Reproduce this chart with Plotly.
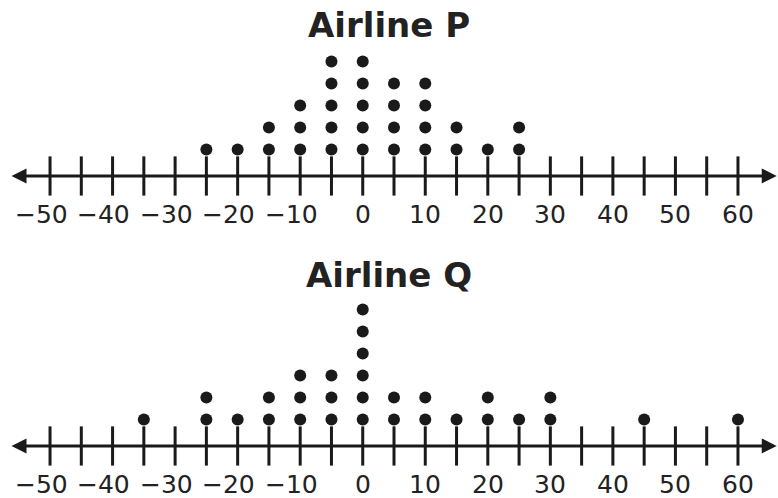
import plotly.graph_objects as go

# ---- data ----
tick_values = list(range(-50, 61, 5))
label_values = list(range(-50, 61, 10))
label_text = ["−50", "−40", "−30", "−20", "−10", "0", "10", "20", "30", "40", "50", "60"]

p_values = [-25, -20, -15, -10, -5, 0, 5, 10, 15, 20, 25]
p_counts = [1, 1, 2, 3, 5, 5, 4, 4, 2, 1, 2]

q_values = [-35, -25, -20, -15, -10, -5, 0, 5, 10, 15, 20, 25, 30, 45, 60]
q_counts = [1, 2, 1, 2, 3, 3, 6, 2, 2, 1, 2, 1, 2, 1, 1]

titles = ["Airline P", "Airline Q"]

# ---- style ----
INK = "#1a1a1a"
AXIS_Y = -0.2
LABEL_Y = -1.97
FONT = "DejaVu Sans"

fig = go.Figure()

panels = [(p_values, p_counts, "x", "y"), (q_values, q_counts, "x2", "y2")]
for vals, counts, xa, ya in panels:
    xs, ys = [], []
    for v, c in zip(vals, counts):
        for k in range(1, c + 1):
            xs.append(v)
            ys.append(k)
    fig.add_trace(go.Scatter(x=xs, y=ys, mode="markers", xaxis=xa, yaxis=ya,
                             marker=dict(size=12, color=INK), hoverinfo="x", showlegend=False))
    fig.add_trace(go.Scatter(x=tick_values, y=[AXIS_Y] * len(tick_values), mode="markers",
                             xaxis=xa, yaxis=ya,
                             marker=dict(symbol="line-ns", size=28, line=dict(width=3, color=INK)),
                             hoverinfo="skip", showlegend=False))
    for v, t in zip(label_values, label_text):
        fig.add_annotation(x=v, y=LABEL_Y, xref=xa, yref=ya, text=t, showarrow=False,
                           xanchor="center", yanchor="middle",
                           xshift=-9 if t.startswith("−") else 0,
                           font=dict(family=FONT, size=25, color="#222222"))
    fig.add_annotation(x=66.2, y=AXIS_Y, ax=-56.4, ay=AXIS_Y, xref=xa, yref=ya,
                       axref=xa, ayref=ya, text="", showarrow=True,
                       arrowside="end+start", arrowhead=2, startarrowhead=2,
                       arrowsize=1.0, startarrowsize=1.0, arrowwidth=3, arrowcolor=INK)

fig.add_annotation(text="<b>" + titles[0] + "</b>", xref="paper", yref="paper", x=0.5, y=0.949,
                   xanchor="center", yanchor="middle", showarrow=False,
                   font=dict(family=FONT, size=34, color="#222222"))
fig.add_annotation(text="<b>" + titles[1] + "</b>", xref="paper", yref="paper", x=0.5, y=0.447,
                   xanchor="center", yanchor="middle", showarrow=False,
                   font=dict(family=FONT, size=34, color="#222222"))

hidden = dict(visible=False, showgrid=False, zeroline=False, fixedrange=True)
fig.update_layout(
    width=778, height=498,
    margin=dict(l=0, r=0, t=0, b=0),
    paper_bgcolor="white", plot_bgcolor="white",
    xaxis=dict(range=[-58, 66.4], domain=[0, 1], anchor="y", **hidden),
    yaxis=dict(range=[-3.564, 7.8], domain=[1 - 250 / 498, 1], anchor="x", **hidden),
    xaxis2=dict(range=[-58, 66.4], domain=[0, 1], anchor="y2", **hidden),
    yaxis2=dict(range=[-2.564, 8.709], domain=[0, 1 - 250 / 498], anchor="x2", **hidden),
)

fig.write_html("out.html", config={"displayModeBar": False},
               post_script="document.body.style.margin='0';document.body.style.overflow='hidden';")
